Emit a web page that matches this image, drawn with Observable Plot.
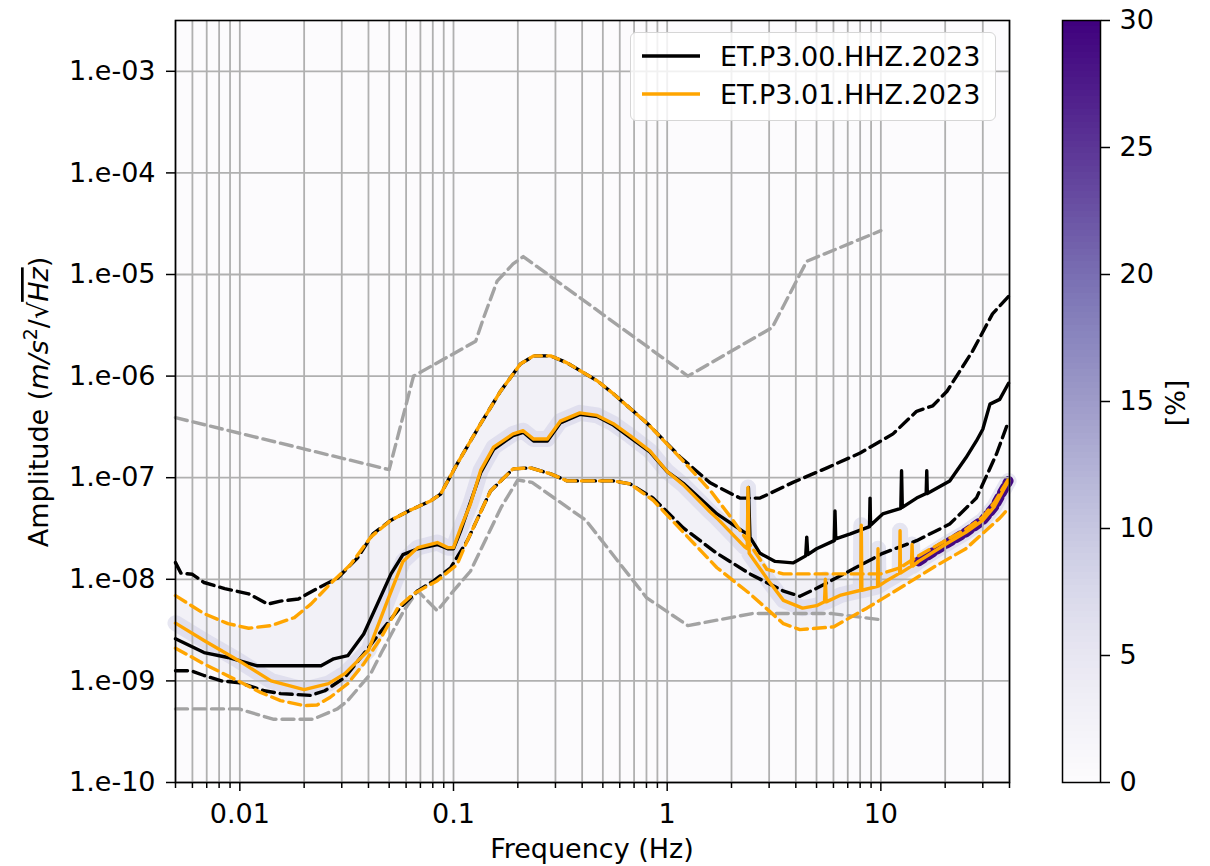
<!DOCTYPE html>
<html><head><meta charset="utf-8">
<script src="https://cdn.jsdelivr.net/npm/d3@7"></script>
<script src="https://cdn.jsdelivr.net/npm/@observablehq/plot@0.6"></script>
<style>
body{margin:0;background:#fff;font-family:"DejaVu Sans",sans-serif;}
#wrap{position:relative;width:1210px;height:866px;overflow:hidden;background:#fff;}
#main{position:absolute;left:0;top:0;}
#cbar{position:absolute;left:1040px;top:0;}
#legend{position:absolute;left:630px;top:32px;width:366px;height:89px;box-sizing:border-box;border:1.5px solid #d6d6d6;border-radius:6px;background:rgba(255,255,255,0.82);}
</style></head><body>
<div id="wrap"><div id="main"></div><div id="cbar"></div><div id="legend"></div></div>
<script>
// ---------- data (frequency in Hz, amplitude in m/s^2/sqrt(Hz)) ----------
const seriesNames = ["ET.P3.00.HHZ.2023", "ET.P3.01.HHZ.2023"];
const seriesColors = ["#000000", "#ffa500"];

const nhnmFreq = [0.005, 0.05, 0.065, 0.127, 0.138, 0.16, 0.19, 0.212, 1.25, 3.1, 4.5, 10];
const nhnmAmp  = [3.9e-7, 1.2e-7, 1.0e-6, 2.2e-6, 3.7e-6, 8.6e-6, 1.27e-5, 1.5e-5, 1.0e-6, 3.0e-6, 1.35e-5, 2.7e-5];

const nlnmFreq = [0.005, 0.0099, 0.0143, 0.022, 0.0286, 0.032, 0.041, 0.046, 0.0585, 0.068, 0.084, 0.1, 0.12, 0.167, 0.2, 0.233, 0.417, 0.8, 1.25, 2.5, 5.9, 10];
const nlnmAmp  = [5.3e-10, 5.3e-10, 4.2e-10, 4.2e-10, 5.3e-10, 6.4e-10, 1.18e-9, 1.9e-9, 4.9e-9, 7.7e-9, 4.9e-9, 7.7e-9, 1.2e-8, 5.1e-8, 9.5e-8, 9.0e-8, 3.8e-8, 6.6e-9, 3.5e-9, 4.6e-9, 4.6e-9, 4.0e-9];

// ET.P3.00 (black)
const p0MedFreq = [0.005, 0.0068, 0.0088, 0.012, 0.024, 0.0275, 0.032, 0.038, 0.044, 0.051, 0.058, 0.068, 0.084, 0.094, 0.1, 0.108, 0.134, 0.154, 0.19, 0.212, 0.237, 0.275, 0.316, 0.39, 0.47, 0.56, 0.67, 0.83, 1.0, 1.19, 1.71, 2.3, 2.38, 2.4, 2.44, 2.72, 3.2, 3.88, 4.45, 4.5, 4.55, 5.0, 6.05, 6.1, 6.15, 7.2, 8.85, 8.9, 8.95, 10.2, 12.4, 12.5, 12.6, 14.7, 16.3, 16.4, 16.5, 21, 25, 28, 30, 32.4, 36, 39.6];
const p0MedAmp  = [2.6e-9, 1.9e-9, 1.7e-9, 1.41e-9, 1.41e-9, 1.65e-9, 1.77e-9, 2.9e-9, 5.7e-9, 1.13e-8, 1.75e-8, 2.0e-8, 2.2e-8, 2.0e-8, 2.0e-8, 3.0e-8, 1.12e-7, 1.9e-7, 2.6e-7, 2.8e-7, 2.3e-7, 2.3e-7, 3.45e-7, 4.2e-7, 4.0e-7, 3.3e-7, 2.5e-7, 1.8e-7, 1.15e-7, 8.8e-8, 4.4e-8, 2.9e-8, 2.8e-8, 8.0e-8, 2.6e-8, 1.8e-8, 1.5e-8, 1.45e-8, 1.7e-8, 2.6e-8, 1.75e-8, 2.0e-8, 2.4e-8, 4.7e-8, 2.5e-8, 2.8e-8, 3.3e-8, 6.3e-8, 3.4e-8, 4.4e-8, 5.0e-8, 1.17e-7, 5.1e-8, 6.3e-8, 7.0e-8, 1.17e-7, 7.0e-8, 9.3e-8, 1.57e-7, 2.3e-7, 3.0e-7, 5.3e-7, 5.9e-7, 8.5e-7];
const p0UpFreq = [0.005, 0.0053, 0.006, 0.0068, 0.0085, 0.011, 0.0135, 0.0155, 0.0188, 0.023, 0.0287, 0.0356, 0.042, 0.0508, 0.063, 0.078, 0.087, 0.104, 0.134, 0.166, 0.206, 0.237, 0.285, 0.34, 0.47, 0.56, 0.81, 1.15, 1.59, 2.19, 2.72, 3.88, 5.6, 8.0, 11.4, 14.7, 17.5, 20.4, 26.9, 33.3, 39.6];
const p0UpAmp  = [1.46e-8, 1.15e-8, 1.12e-8, 9.3e-9, 8.1e-9, 7.2e-9, 5.7e-9, 6.1e-9, 6.4e-9, 8.1e-9, 1.03e-8, 1.63e-8, 2.8e-8, 3.8e-8, 4.8e-8, 5.9e-8, 6.9e-8, 1.37e-7, 3.4e-7, 7.1e-7, 1.32e-6, 1.58e-6, 1.58e-6, 1.35e-6, 9.0e-7, 6.7e-7, 3.4e-7, 1.6e-7, 8.9e-8, 6.3e-8, 6.3e-8, 9.0e-8, 1.25e-7, 1.75e-7, 2.7e-7, 4.5e-7, 5.1e-7, 7.1e-7, 1.77e-6, 4.1e-6, 6.1e-6];
const p0LoFreq = [0.005, 0.0059, 0.0068, 0.0082, 0.01, 0.013, 0.0155, 0.0215, 0.025, 0.031, 0.038, 0.047, 0.0565, 0.068, 0.081, 0.097, 0.116, 0.149, 0.19, 0.229, 0.285, 0.34, 0.56, 0.67, 0.86, 1.19, 1.71, 2.44, 3.48, 4.18, 5.03, 7.2, 10.2, 14.7, 21, 28, 34.8, 39.6];
const p0LoAmp  = [1.26e-9, 1.26e-9, 1.13e-9, 1.0e-9, 9.6e-10, 8.0e-10, 7.5e-10, 7.2e-10, 8.0e-10, 1.08e-9, 1.85e-9, 3.3e-9, 5.3e-9, 7.7e-9, 9.7e-9, 1.3e-8, 2.4e-8, 7.4e-8, 1.22e-7, 1.25e-7, 1.09e-7, 9.3e-8, 9.3e-8, 8.7e-8, 6.3e-8, 3.2e-8, 1.8e-8, 1.13e-8, 7.7e-9, 6.8e-9, 8.2e-9, 1.22e-8, 1.8e-8, 2.4e-8, 3.5e-8, 6.3e-8, 1.72e-7, 3.6e-7];

// ET.P3.01 (orange)
const p1MedFreq = [0.005, 0.0068, 0.0098, 0.014, 0.02, 0.026, 0.031, 0.04, 0.049, 0.058, 0.068, 0.084, 0.094, 0.1, 0.108, 0.12, 0.134, 0.154, 0.19, 0.212, 0.237, 0.275, 0.316, 0.39, 0.47, 0.56, 0.67, 0.83, 1.0, 1.19, 1.59, 1.71, 2.3, 2.37, 2.39, 2.42, 3.0, 3.5, 4.3, 5.0, 5.45, 5.5, 5.55, 6.5, 8.05, 8.1, 8.15, 9.65, 9.7, 9.75, 10.5, 12.25, 12.3, 12.35, 13.9, 14.0, 14.1, 15, 20, 25, 30, 34, 37, 39.6];
const p1MedAmp  = [3.7e-9, 2.5e-9, 1.6e-9, 1.0e-9, 8.2e-10, 9.4e-10, 1.18e-9, 2.0e-9, 6.1e-9, 1.5e-8, 2.05e-8, 2.3e-8, 2.05e-8, 2.05e-8, 3.2e-8, 5.5e-8, 1.18e-7, 2.0e-7, 2.7e-7, 2.9e-7, 2.4e-7, 2.4e-7, 3.6e-7, 4.35e-7, 4.1e-7, 3.4e-7, 2.6e-7, 1.84e-7, 1.15e-7, 8.5e-8, 4.6e-8, 4.0e-8, 2.1e-8, 2.0e-8, 8.0e-8, 1.8e-8, 9.5e-9, 6.2e-9, 5.2e-9, 5.5e-9, 6.0e-9, 1.0e-8, 6.0e-9, 7.0e-9, 7.8e-9, 3.4e-8, 7.8e-9, 8.5e-9, 2.0e-8, 8.6e-9, 9.5e-9, 1.15e-8, 3.0e-8, 1.15e-8, 1.35e-8, 2.2e-8, 1.35e-8, 1.5e-8, 2.2e-8, 2.9e-8, 3.8e-8, 5.2e-8, 7.2e-8, 9.3e-8];
const p1UpFreq = [0.005, 0.0068, 0.0088, 0.011, 0.014, 0.018, 0.0215, 0.0265, 0.033, 0.041, 0.0508, 0.063, 0.078, 0.087, 0.104, 0.134, 0.166, 0.206, 0.237, 0.285, 0.34, 0.47, 0.56, 0.81, 1.15, 1.59, 2.0, 2.44, 2.93, 3.5, 10, 12.3, 15, 20, 25, 30, 34, 37, 39.6];
const p1UpAmp  = [6.9e-9, 4.6e-9, 3.66e-9, 3.3e-9, 3.5e-9, 4.2e-9, 5.7e-9, 9.0e-9, 1.4e-8, 2.6e-8, 3.8e-8, 4.8e-8, 5.9e-8, 6.9e-8, 1.37e-7, 3.4e-7, 7.1e-7, 1.32e-6, 1.58e-6, 1.58e-6, 1.35e-6, 9.0e-7, 6.7e-7, 3.4e-7, 1.57e-7, 7.5e-8, 4.0e-8, 2.2e-8, 1.25e-8, 1.13e-8, 1.13e-8, 1.3e-8, 1.7e-8, 2.4e-8, 3.1e-8, 4.1e-8, 5.7e-8, 7.7e-8, 9.7e-8];
const p1LoFreq = [0.005, 0.0068, 0.0098, 0.0125, 0.0155, 0.02, 0.023, 0.0265, 0.032, 0.038, 0.046, 0.055, 0.065, 0.084, 0.104, 0.116, 0.149, 0.19, 0.229, 0.285, 0.34, 0.56, 0.67, 0.86, 1.19, 1.71, 2.44, 3.5, 4.18, 6.0, 8.6, 12.3, 17.5, 25, 36, 39.6];
const p1LoAmp  = [2.1e-9, 1.47e-9, 1.0e-9, 7.7e-10, 6.4e-10, 5.7e-10, 5.8e-10, 6.9e-10, 9.4e-10, 1.47e-9, 2.7e-9, 5.3e-9, 7.2e-9, 9.7e-9, 1.4e-8, 2.4e-8, 7.4e-8, 1.22e-7, 1.25e-7, 1.09e-7, 9.3e-8, 9.3e-8, 8.7e-8, 6.0e-8, 2.9e-8, 1.3e-8, 7.2e-9, 3.66e-9, 3.2e-9, 3.4e-9, 5.2e-9, 8.2e-9, 1.3e-8, 2.0e-8, 4.0e-8, 5.0e-8];

// ticks
const xTicks = [0.01, 0.1, 1, 10];
const xTickLabels = ["0.01", "0.1", "1", "10"];
const xMinor = [0.005, 0.006, 0.007, 0.008, 0.009, 0.02, 0.03, 0.04, 0.05, 0.06, 0.07, 0.08, 0.09, 0.2, 0.3, 0.4, 0.5, 0.6, 0.7, 0.8, 0.9, 2, 3, 4, 5, 6, 7, 8, 9, 20, 30, 40];
const yTicks = [1e-10, 1e-9, 1e-8, 1e-7, 1e-6, 1e-5, 1e-4, 1e-3];
const yTickLabels = ["1.e-10", "1.e-09", "1.e-08", "1.e-07", "1.e-06", "1.e-05", "1.e-04", "1.e-03"];
const cbTicks = [0, 5, 10, 15, 20, 25, 30];
const cbTickLabels = ["0", "5", "10", "15", "20", "25", "30"];

// ---------- build ----------
const pts = (F, A) => F.map((f, i) => ({f, a: A[i]}));
const nhnm = pts(nhnmFreq, nhnmAmp), nlnm = pts(nlnmFreq, nlnmAmp);
const p0Med = pts(p0MedFreq, p0MedAmp), p0Up = pts(p0UpFreq, p0UpAmp), p0Lo = pts(p0LoFreq, p0LoAmp);
const p1Med = pts(p1MedFreq, p1MedAmp), p1Up = pts(p1UpFreq, p1UpAmp), p1Lo = pts(p1LoFreq, p1LoAmp);
const band = [...p1Up, ...p1Lo.slice().reverse()];
const hot = p1Med.filter(d => d.f >= 14.5);

const FONT = "DejaVu Sans";
const FS = 27;
const grid = "#b0b0b0";
const gray = "#a3a3a3";
const [cBlack, cOrange] = seriesColors;
const lw = 3.4;
const dash = "12,6";

const main = Plot.plot({
  width: 1030, height: 866,
  marginLeft: 175, marginRight: 21, marginTop: 20, marginBottom: 84,
  style: {fontFamily: FONT, fontSize: FS + "px", background: "transparent", color: "#000", overflow: "visible"},
  x: {type: "log", domain: [0.005, 40], label: null},
  y: {type: "log", domain: [1e-10, Math.pow(10, -2.5)], label: null},
  marks: [
    Plot.frame({fill: d3.interpolatePurples(0), stroke: null}),
    Plot.line(band, {x: "f", y: "a", fill: d3.interpolatePurples(0.09), stroke: "none"}),
    Plot.line(p1Med, {x: "f", y: "a", stroke: d3.interpolatePurples(0.32), strokeWidth: 16, strokeOpacity: 0.45}),
    Plot.line(hot, {x: "f", y: "a", stroke: d3.interpolatePurples(0.97), strokeWidth: 10, strokeDasharray: "6,5"}),
    Plot.gridX(xMinor.concat(xTicks), {stroke: grid, strokeOpacity: 1, strokeWidth: 1.8}),
    Plot.gridY(yTicks, {stroke: grid, strokeOpacity: 1, strokeWidth: 1.8}),
    Plot.line(nhnm, {x: "f", y: "a", stroke: gray, strokeWidth: lw, strokeDasharray: dash}),
    Plot.line(nlnm, {x: "f", y: "a", stroke: gray, strokeWidth: lw, strokeDasharray: dash}),
    Plot.line(p0Up, {x: "f", y: "a", stroke: cBlack, strokeWidth: lw, strokeDasharray: dash}),
    Plot.line(p0Lo, {x: "f", y: "a", stroke: cBlack, strokeWidth: lw, strokeDasharray: dash}),
    Plot.line(p0Med, {x: "f", y: "a", stroke: cBlack, strokeWidth: lw}),
    Plot.line(p1Up, {x: "f", y: "a", stroke: cOrange, strokeWidth: lw, strokeDasharray: dash}),
    Plot.line(p1Lo, {x: "f", y: "a", stroke: cOrange, strokeWidth: lw, strokeDasharray: dash}),
    Plot.line(p1Med, {x: "f", y: "a", stroke: cOrange, strokeWidth: lw}),
    Plot.frame({stroke: "#000", strokeWidth: 1.6}),
    Plot.axisX(xMinor, {tickSize: 6, tickFormat: () => "", strokeWidth: 1.5, label: null}),
    Plot.axisX(xTicks, {tickSize: 9, tickPadding: 12, strokeWidth: 1.5, label: null,
      tickFormat: d => xTickLabels[xTicks.indexOf(d)]}),
    Plot.axisY(yTicks, {tickSize: 9, tickPadding: 11, strokeWidth: 1.5, label: null,
      tickFormat: d => yTickLabels[yTicks.indexOf(d)]})
  ]
});
document.getElementById("main").appendChild(main);

const ms = d3.select(main);
ms.append("text").attr("x", 592).attr("y", 858).attr("text-anchor", "middle")
  .attr("font-family", FONT).attr("font-size", FS).attr("fill", "#000").text("Frequency (Hz)");
const yl = ms.append("text").attr("transform", "translate(48,402) rotate(-90)").attr("text-anchor", "middle")
  .attr("font-family", FONT).attr("font-size", FS).attr("fill", "#000");
yl.append("tspan").text("Amplitude (");
yl.append("tspan").attr("font-style", "italic").text("m/s");
yl.append("tspan").attr("dy", -11).attr("font-size", 19).text("2");
yl.append("tspan").attr("dy", 11).text("/\u221A");
yl.append("tspan").attr("font-style", "italic").attr("text-decoration", "overline").text("Hz");
yl.append("tspan").text(")");

// ---------- colorbar ----------
const step = 0.25;
const cbSteps = d3.range(0, 30, step);
const cbar = Plot.plot({
  width: 170, height: 866,
  marginLeft: 22, marginRight: 110, marginTop: 20, marginBottom: 84,
  style: {fontFamily: FONT, fontSize: FS + "px", background: "transparent", color: "#000", overflow: "visible"},
  x: {domain: [0, 1], axis: null},
  y: {domain: [0, 30], label: null},
  color: {type: "linear", scheme: "purples", domain: [0, 30]},
  marks: [
    Plot.rect(cbSteps, {x1: () => 0, x2: () => 1, y1: d => d, y2: d => d + step, fill: d => d + step / 2, shapeRendering: "crispEdges"}),
    Plot.frame({stroke: "#000", strokeWidth: 1.5}),
    Plot.axisY(cbTicks, {anchor: "right", tickSize: 9, tickPadding: 10, strokeWidth: 1.5, label: null,
      tickFormat: d => cbTickLabels[cbTicks.indexOf(d)]})
  ]
});
document.getElementById("cbar").appendChild(cbar);
d3.select(cbar).append("text").attr("transform", "translate(145,403) rotate(-90)").attr("text-anchor", "middle")
  .attr("font-family", FONT).attr("font-size", FS).attr("fill", "#000").text("[%]");

// ---------- legend ----------
const lg = d3.select("#legend").append("svg").attr("width", 366).attr("height", 89);
seriesNames.forEach((name, i) => {
  const cy = 23 + i * 38;
  lg.append("line").attr("x1", 11).attr("x2", 69).attr("y1", cy).attr("y2", cy)
    .attr("stroke", seriesColors[i]).attr("stroke-width", 3.5);
  lg.append("text").attr("x", 89).attr("y", cy + 10).attr("font-family", FONT).attr("font-size", FS)
    .attr("fill", "#000").text(name);
});
</script></body></html>
